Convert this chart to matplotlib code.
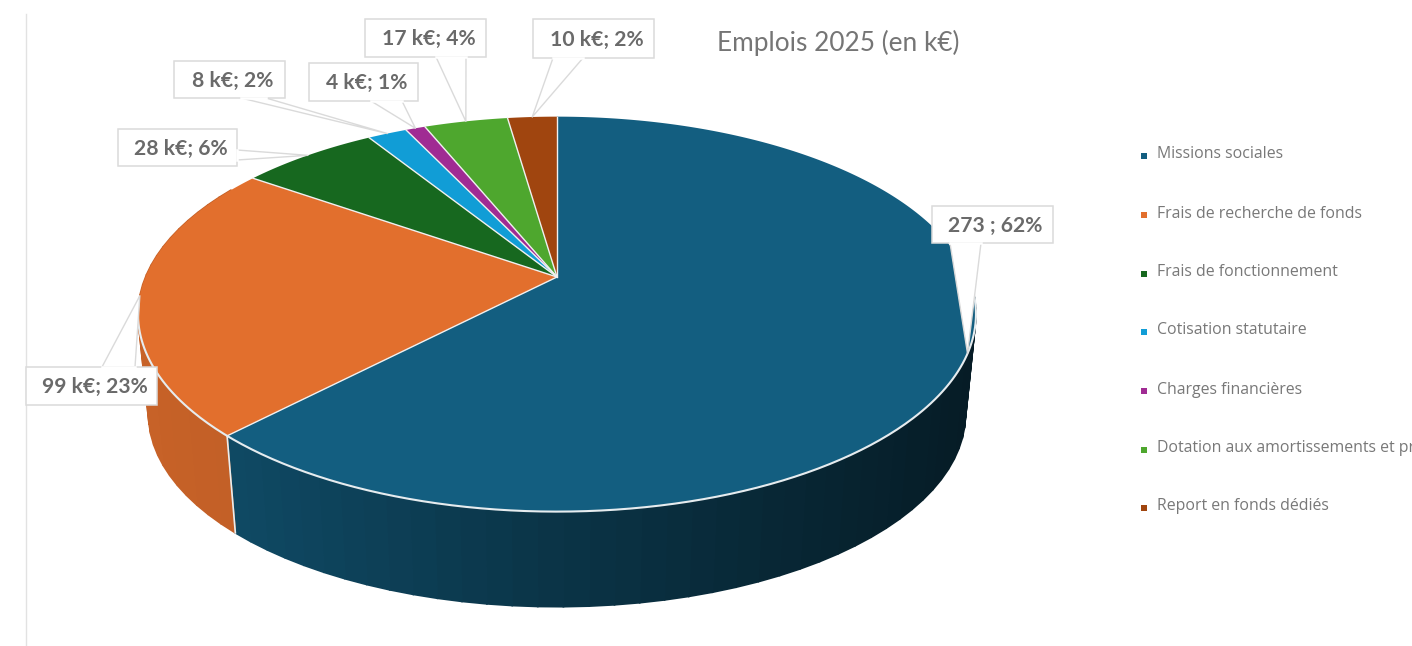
"""Emplois 2025 : camembert en perspective, façon Excel 3D."""

import matplotlib

matplotlib.use("Agg")
import matplotlib.pyplot as plt
import numpy as np
from matplotlib.colors import to_rgb

categories = [
    "Missions sociales",
    "Frais de recherche de fonds",
    "Frais de fonctionnement",
    "Cotisation statutaire",
    "Charges financières",
    "Dotation aux amortissements et provisions",
    "Report en fonds dédiés",
]
values = [273, 99, 28, 8, 4, 17, 10]
value_labels = [
    "273 ; 62%",
    "99 k€; 23%",
    "28 k€; 6%",
    "8 k€; 2%",
    "4 k€; 1%",
    "17 k€; 4%",
    "10 k€; 2%",
]
colors = ["#135E80", "#E26F2D", "#17681F", "#119DD6", "#A02B93", "#4EA72E", "#A0450F"]

# boites des étiquettes (x0, x1, y0, y1) et pieds du trait de rappel
BOXES = [
    (932, 1053, 206, 243),
    (26, 157, 367, 405),
    (118, 237, 129, 166),
    (174, 285, 61, 98),
    (309, 418, 63, 101),
    (365, 486, 19, 57),
    (533, 654, 19, 58),
]
LEADER_FEET = [
    ((950, 243), (981, 243)),
    ((102, 367), (135, 367)),
    ((237, 150), (237, 160)),
    ((241, 98), (266, 98)),
    ((371, 101), (402, 101)),
    ((436, 57), (466, 57)),
    ((553, 58), (583, 58)),
]
LEGEND_Y = [153, 212, 271, 329, 388, 447, 505]

# perspective du disque
CX, CY = 557, 277
A, B, K = 411.5, 190.5, 0.188
BOTTOM_SCALE, DEPTH = 0.975, 101
TEXT_GREY = "#6A6A6A"
BOX_GREY = "#DADADA"


def project(theta, scale=1.0, dy=0.0):
    """Angle horaire depuis le haut (degrés) vers les pixels de l'image."""
    t = np.radians(theta)
    denom = 1 + K * np.cos(t)
    return CX + scale * A * np.sin(t) / denom, CY - scale * B * np.cos(t) / denom + dy


def shaded(color, f):
    return tuple(c * f for c in to_rgb(color))


fig = plt.figure(figsize=(14.12, 6.46), dpi=100)
ax = fig.add_axes([0, 0, 1, 1])
ax.set_xlim(0, 1412)
ax.set_ylim(646, 0)
ax.axis("off")

ax.plot([25.5, 25.5], [14, 646], color="#E2E2E2", lw=1)

edges = np.concatenate([[0], np.cumsum(values)]) / np.sum(values) * 360
mids = (edges[:-1] + edges[1:]) / 2

# flanc : bandes par pas de 3 degrés, plus sombres vers la droite
for i in (0, 1):
    start = max(edges[i], 93)
    stop = min(edges[i + 1], 300)
    bands = np.linspace(start, stop, int((stop - start) / 3) + 2)
    for a, b in zip(bands[:-1], bands[1:]):
        xt, yt = project(np.array([a, b]))
        xb, yb = project(np.array([b, a]), BOTTOM_SCALE, DEPTH)
        xm = (xt.mean() - 147) / 820
        if i == 0:
            f = np.interp(xm, [0.1, 0.5, 1.0], [0.78, 0.55, 0.3])
        else:
            f = np.interp(xm, [0.0, 0.1], [0.88, 0.86])
        col = shaded(colors[i], f)
        ax.fill(np.r_[xt, xb], np.r_[yt, yb], facecolor=col, edgecolor=col, lw=1.2, zorder=2)

# arête blanche entre les deux flancs
xt, yt = project(edges[1])
xb, yb = project(edges[1], BOTTOM_SCALE, DEPTH)
ax.plot([xt, xb], [yt, yb], color="#E8EEF0", lw=1.2, zorder=3)

# face supérieure
for i, col in enumerate(colors):
    arc = np.linspace(edges[i], edges[i + 1], max(int(edges[i + 1] - edges[i]) * 2, 6))
    x, y = project(arc)
    ax.fill(np.r_[CX, x], np.r_[CY, y], facecolor=col, edgecolor="none", zorder=4)
    ax.plot([CX, x[0]], [CY, y[0]], color="#F0F0F0", lw=1.0, zorder=5)

# liseré clair sur le bord avant
rim = np.linspace(92, 262, 300)
x, y = project(rim)
ax.plot(x, y, color="#E6ECEF", lw=1.5, zorder=5)

# étiquettes avec trait de rappel
for i, label in enumerate(value_labels):
    x0, x1, y0, y1 = BOXES[i]
    tip = project(mids[i])
    f0, f1 = LEADER_FEET[i]
    ax.fill([f0[0], tip[0], f1[0]], [f0[1], tip[1], f1[1]], color="white", lw=0, zorder=6)
    ax.plot([f0[0], tip[0], f1[0]], [f0[1], tip[1], f1[1]], color=BOX_GREY, lw=1, zorder=6)
    ax.fill([x0, x1, x1, x0], [y0, y0, y1, y1], facecolor="white", edgecolor=BOX_GREY, lw=1.1, zorder=7)
    # ouverture de la boite sur le trait de rappel
    ax.plot([f0[0], f1[0]], [f0[1], f1[1]], color="white", lw=1.8, zorder=8)
    ax.text(
        (x0 + x1) / 2 + 3,
        (y0 + y1) / 2 + 1,
        label,
        ha="center",
        va="center",
        family="Lato",
        weight="bold",
        fontsize=15.2,
        color=TEXT_GREY,
        zorder=9,
    )

ax.text(717, 43, "Emplois 2025 (en k€)", ha="left", va="center", family="Lato", fontsize=18.9, color="#757575")

# légende
for name, col, y in zip(categories, colors, LEGEND_Y):
    ax.plot(1144, y + 2.5, marker="s", ms=3.8, color=col, mew=0)
    ax.text(1157, y + 1.5, name, ha="left", va="center", family="Open Sans", fontsize=11.4, color="#787878")

fig.savefig("out.png", dpi=100)
plt.close(fig)
